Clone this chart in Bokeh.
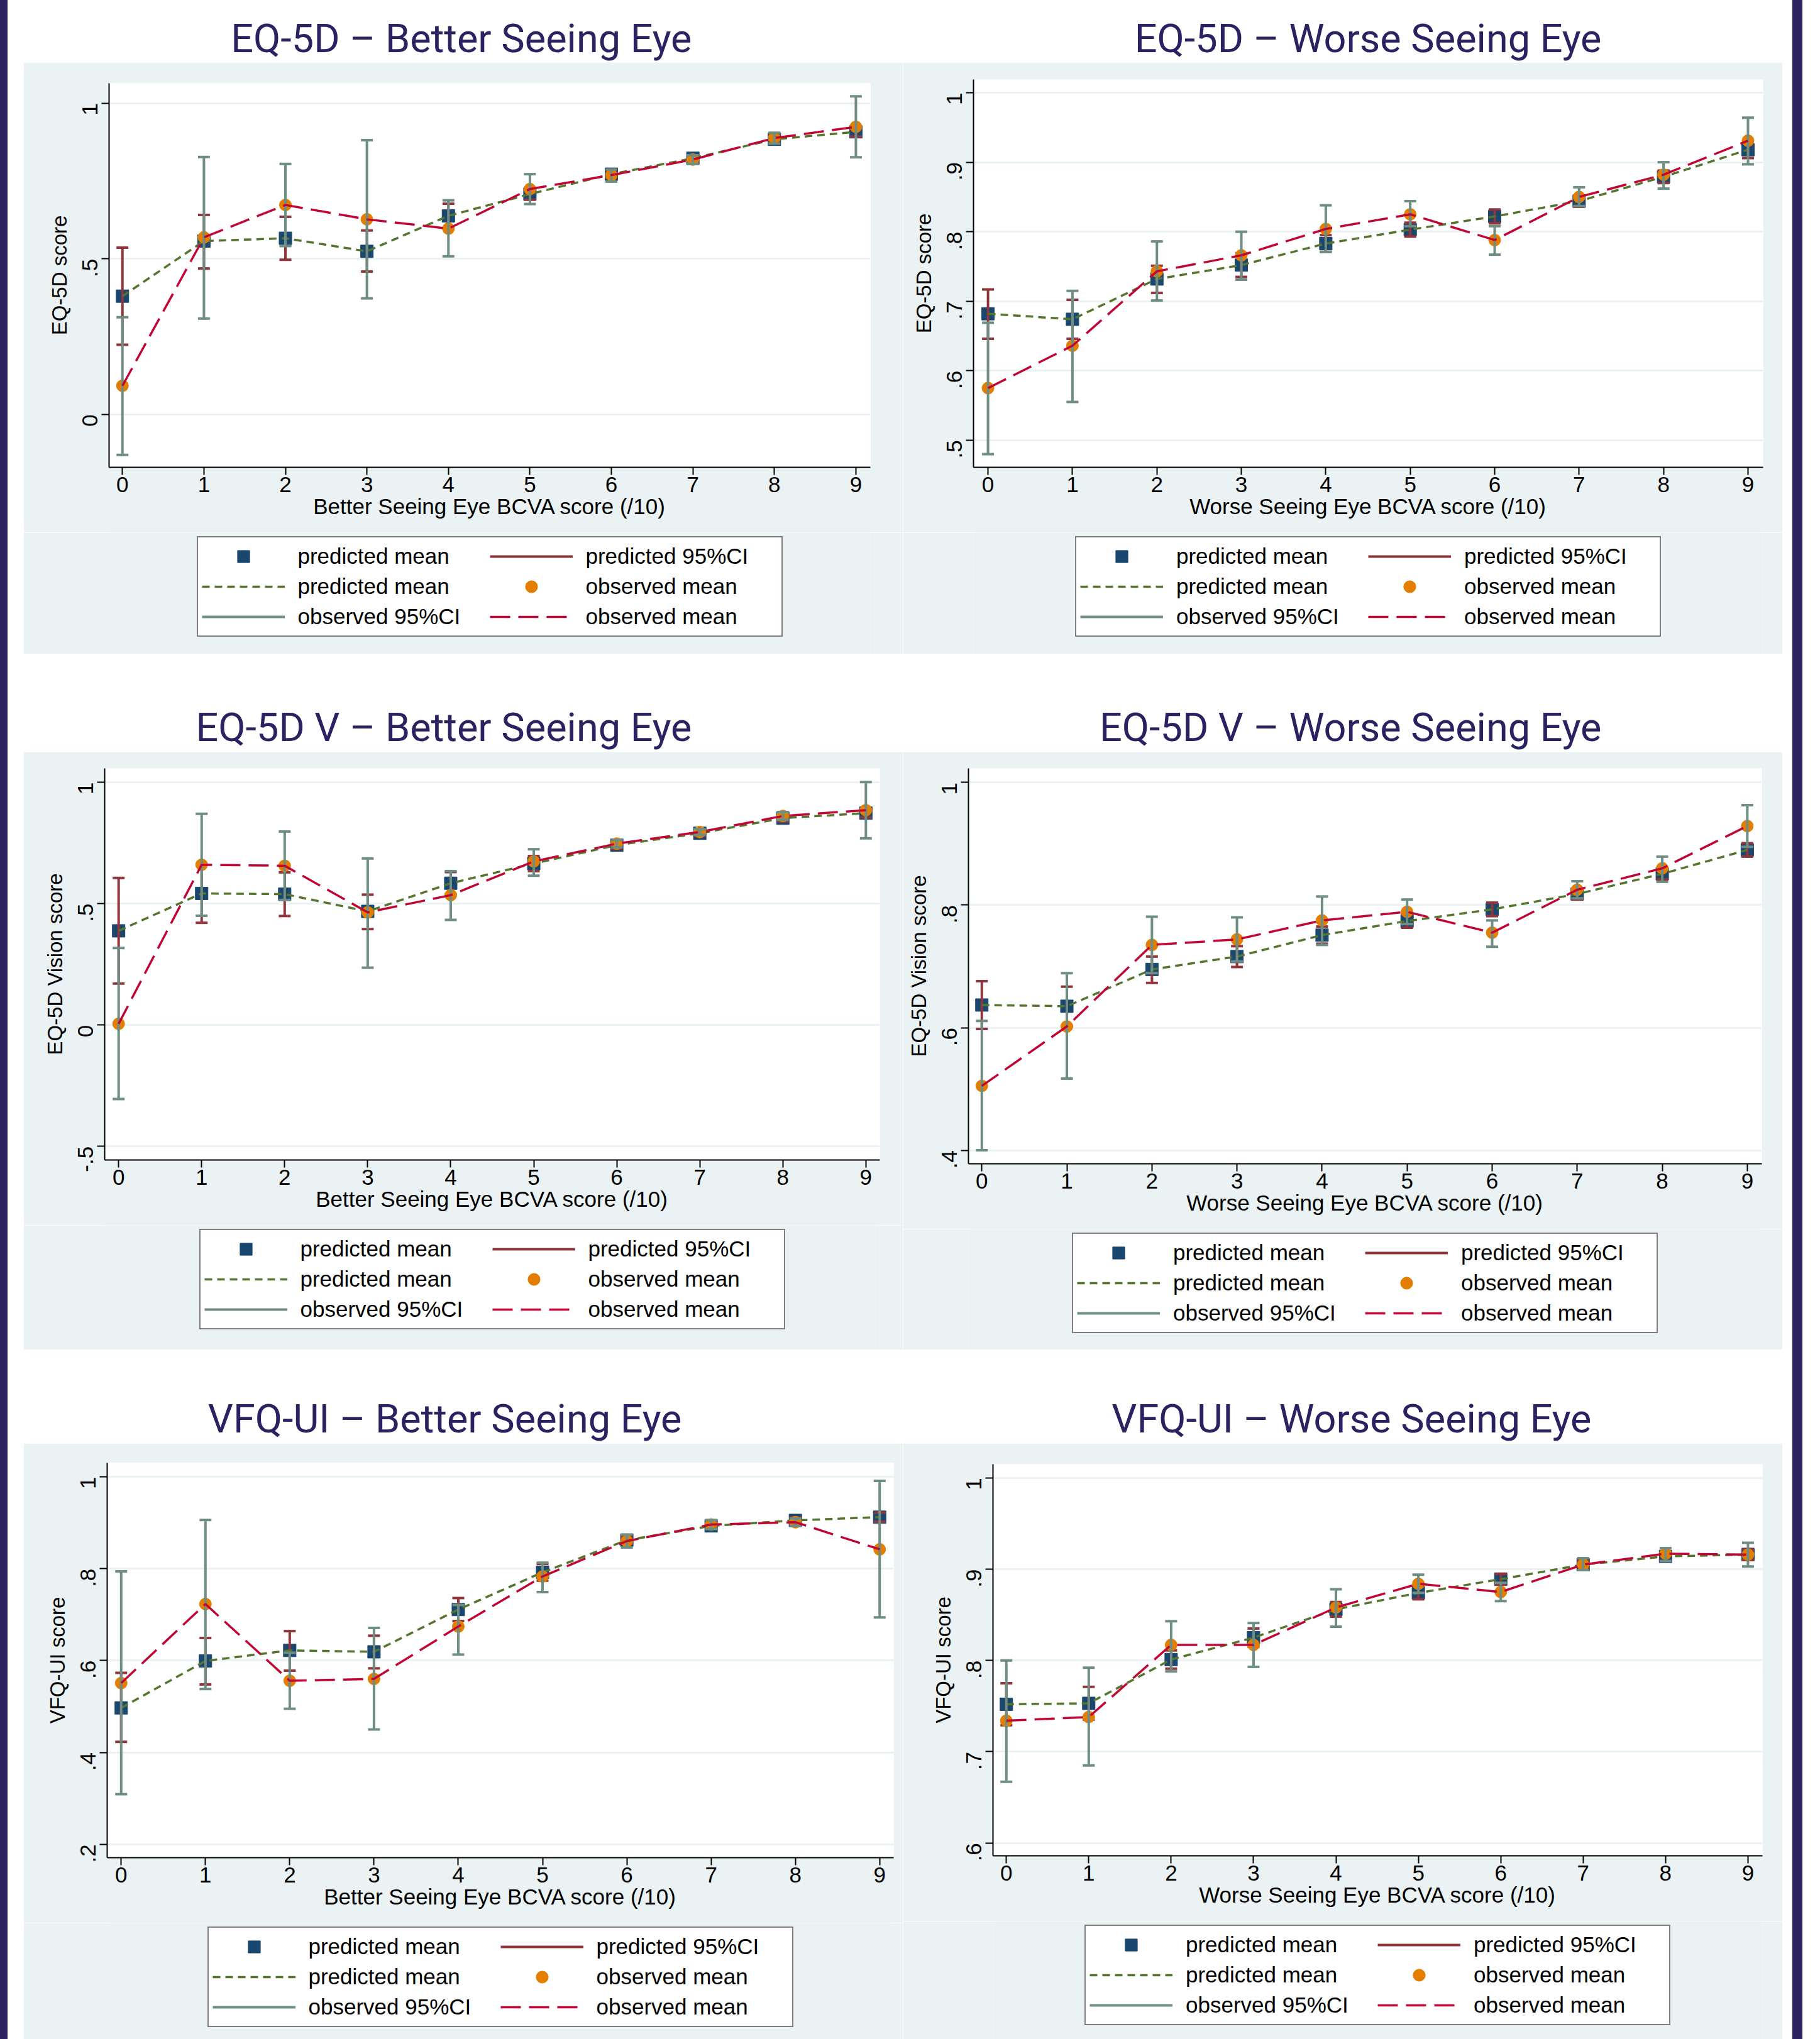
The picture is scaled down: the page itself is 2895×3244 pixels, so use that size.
import math
from bokeh.plotting import figure
from bokeh.models import (Range1d, FixedTicker, Legend, LegendItem,
                          ColumnDataSource, Div, Spacer)
from bokeh.layouts import row, column
from bokeh.embed import file_html
from bokeh.resources import INLINE
from bokeh.core.properties import value

# ---------------------------------------------------------------- data
bcva_score = [0, 1, 2, 3, 4, 5, 6, 7, 8, 9]

# EQ-5D, better seeing eye
eq5d_better_pred_mean = [0.380, 0.557, 0.566, 0.524, 0.638, 0.708, 0.772, 0.823, 0.884, 0.908]
eq5d_better_pred_lo = [0.224, 0.469, 0.497, 0.459, 0.599, 0.690, 0.760, 0.813, 0.872, 0.893]
eq5d_better_pred_hi = [0.536, 0.641, 0.635, 0.591, 0.677, 0.726, 0.784, 0.833, 0.896, 0.923]
eq5d_better_obs_mean = [0.092, 0.569, 0.673, 0.627, 0.597, 0.724, 0.769, 0.819, 0.888, 0.924]
eq5d_better_obs_lo = [-0.130, 0.308, 0.541, 0.373, 0.508, 0.676, 0.748, 0.805, 0.870, 0.826]
eq5d_better_obs_hi = [0.312, 0.827, 0.805, 0.881, 0.688, 0.772, 0.787, 0.833, 0.905, 1.022]

# EQ-5D, worse seeing eye
eq5d_worse_pred_mean = [0.682, 0.674, 0.732, 0.752, 0.783, 0.803, 0.822, 0.844, 0.879, 0.918]
eq5d_worse_pred_lo = [0.646, 0.646, 0.712, 0.735, 0.771, 0.793, 0.812, 0.836, 0.870, 0.906]
eq5d_worse_pred_hi = [0.717, 0.702, 0.751, 0.769, 0.795, 0.813, 0.832, 0.852, 0.888, 0.930]
eq5d_worse_obs_mean = [0.575, 0.636, 0.743, 0.766, 0.804, 0.825, 0.788, 0.850, 0.882, 0.931]
eq5d_worse_obs_lo = [0.480, 0.555, 0.701, 0.731, 0.771, 0.808, 0.767, 0.837, 0.862, 0.897]
eq5d_worse_obs_hi = [0.669, 0.715, 0.786, 0.800, 0.838, 0.844, 0.808, 0.864, 0.900, 0.964]

# EQ-5D V, better seeing eye
eq5dv_better_pred_mean = [0.388, 0.542, 0.539, 0.468, 0.584, 0.665, 0.741, 0.790, 0.852, 0.873]
eq5dv_better_pred_lo = [0.171, 0.421, 0.449, 0.395, 0.538, 0.634, 0.726, 0.778, 0.838, 0.855]
eq5dv_better_pred_hi = [0.606, 0.663, 0.629, 0.537, 0.630, 0.696, 0.756, 0.802, 0.866, 0.891]
eq5dv_better_obs_mean = [0.005, 0.660, 0.656, 0.464, 0.535, 0.674, 0.747, 0.795, 0.861, 0.885]
eq5dv_better_obs_lo = [-0.305, 0.450, 0.515, 0.236, 0.433, 0.615, 0.732, 0.783, 0.845, 0.769]
eq5dv_better_obs_hi = [0.317, 0.870, 0.797, 0.686, 0.634, 0.724, 0.762, 0.807, 0.877, 1.001]

# EQ-5D V, worse seeing eye
eq5dv_worse_pred_mean = [0.637, 0.635, 0.695, 0.716, 0.751, 0.774, 0.793, 0.818, 0.851, 0.890]
eq5dv_worse_pred_lo = [0.598, 0.603, 0.673, 0.699, 0.737, 0.763, 0.782, 0.809, 0.842, 0.879]
eq5dv_worse_pred_hi = [0.676, 0.667, 0.716, 0.733, 0.765, 0.785, 0.804, 0.827, 0.860, 0.901]
eq5dv_worse_obs_mean = [0.505, 0.602, 0.735, 0.744, 0.775, 0.789, 0.755, 0.825, 0.860, 0.929]
eq5dv_worse_obs_lo = [0.400, 0.517, 0.689, 0.708, 0.735, 0.769, 0.732, 0.811, 0.838, 0.895]
eq5dv_worse_obs_hi = [0.611, 0.689, 0.781, 0.780, 0.814, 0.809, 0.775, 0.839, 0.879, 0.963]

# VFQ-UI, better seeing eye
vfq_better_pred_mean = [0.497, 0.599, 0.622, 0.619, 0.711, 0.792, 0.862, 0.893, 0.905, 0.912]
vfq_better_pred_lo = [0.423, 0.548, 0.578, 0.583, 0.686, 0.774, 0.854, 0.887, 0.899, 0.902]
vfq_better_pred_hi = [0.573, 0.649, 0.664, 0.654, 0.736, 0.810, 0.870, 0.899, 0.911, 0.922]
vfq_better_obs_mean = [0.551, 0.723, 0.556, 0.560, 0.674, 0.783, 0.860, 0.896, 0.901, 0.842]
vfq_better_obs_lo = [0.309, 0.538, 0.495, 0.450, 0.613, 0.749, 0.846, 0.886, 0.893, 0.694]
vfq_better_obs_hi = [0.794, 0.906, 0.617, 0.671, 0.721, 0.813, 0.874, 0.906, 0.909, 0.991]

# VFQ-UI, worse seeing eye
vfq_worse_pred_mean = [0.752, 0.753, 0.801, 0.825, 0.856, 0.874, 0.889, 0.905, 0.914, 0.916]
vfq_worse_pred_lo = [0.729, 0.735, 0.791, 0.815, 0.848, 0.867, 0.883, 0.900, 0.909, 0.910]
vfq_worse_pred_hi = [0.775, 0.771, 0.811, 0.835, 0.864, 0.881, 0.895, 0.910, 0.919, 0.922]
vfq_worse_obs_mean = [0.734, 0.738, 0.817, 0.817, 0.858, 0.884, 0.875, 0.905, 0.917, 0.916]
vfq_worse_obs_lo = [0.667, 0.685, 0.788, 0.793, 0.837, 0.874, 0.865, 0.899, 0.909, 0.903]
vfq_worse_obs_hi = [0.800, 0.792, 0.843, 0.841, 0.878, 0.894, 0.885, 0.912, 0.923, 0.929]

# y tick values and labels
eq5d_better_yticks = [0, 0.5, 1]
eq5d_better_ylabels = ["0", ".5", "1"]
eq5d_worse_yticks = [0.5, 0.6, 0.7, 0.8, 0.9, 1]
eq5d_worse_ylabels = [".5", ".6", ".7", ".8", ".9", "1"]
eq5dv_better_yticks = [-0.5, 0, 0.5, 1]
eq5dv_better_ylabels = ["-.5", "0", ".5", "1"]
eq5dv_worse_yticks = [0.4, 0.6, 0.8, 1]
eq5dv_worse_ylabels = [".4", ".6", ".8", "1"]
vfq_better_yticks = [0.2, 0.4, 0.6, 0.8, 1]
vfq_better_ylabels = [".2", ".4", ".6", ".8", "1"]
vfq_worse_yticks = [0.6, 0.7, 0.8, 0.9, 1]
vfq_worse_ylabels = [".6", ".7", ".8", ".9", "1"]

panel_titles = ["EQ-5D \u2013 Better Seeing Eye", "EQ-5D \u2013 Worse Seeing Eye",
                "EQ-5D V \u2013 Better Seeing Eye", "EQ-5D V \u2013 Worse Seeing Eye",
                "VFQ-UI \u2013 Better Seeing Eye", "VFQ-UI \u2013 Worse Seeing Eye"]
x_labels = ["Better Seeing Eye BCVA score (/10)", "Worse Seeing Eye BCVA score (/10)"]
y_labels = ["EQ-5D score", "EQ-5D Vision score", "VFQ-UI score"]
legend_labels = ["predicted mean", "predicted 95%CI", "predicted mean",
                 "observed mean", "observed 95%CI", "observed mean"]

# ---------------------------------------------------------------- style
NAVY = "#1a476f"
MAROON = "#90353b"
GREEN = "#55752f"
ORANGE = "#e37e00"
TEAL = "#6e8e84"
CRANBERRY = "#c10534"
GREY_BG = "#eaf2f3"
PURPLE = "#2b2361"
FONT = "Liberation Sans"
TXT = "35px"
PANEL_W = 1399
AXIS_H = 104          # space under the frame kept for the x axis
LEG_GAP = 110         # frame bottom -> legend box top


def draw_series(p, src, pcap, ocap):
    r_sq = p.scatter("x", "pm", source=src, marker="square", size=20,
                     fill_color=NAVY, line_color=NAVY)
    r_pci = p.segment(x0="x", y0="plo", x1="x", y1="phi", source=src,
                      line_color=MAROON, line_width=4)
    p.scatter("x", "y", source=pcap, marker="dash", size=19,
              line_color=MAROON, line_width=4)
    r_pl = p.line("x", "pm", source=src, line_color=GREEN, line_width=3.5,
                  line_dash="12 8")
    r_oc = p.scatter("x", "om", source=src, marker="circle", size=19,
                     fill_color=ORANGE, line_color=ORANGE)
    r_oci = p.segment(x0="x", y0="olo", x1="x", y1="ohi", source=src,
                      line_color=TEAL, line_width=4)
    p.scatter("x", "y", source=ocap, marker="dash", size=19,
              line_color=TEAL, line_width=4)
    r_ol = p.line("x", "om", source=src, line_color=CRANBERRY, line_width=3.5,
                  line_dash="32 13")
    return [r_sq, r_pci, r_pl, r_oc, r_oci, r_ol]


def make_panel(pm, plo, phi, om, olo, ohi, yticks, ylabels, xlab, ylab,
               height, borders, xr, yr):
    bl, br, bt, bb = borders
    main_h = height - bb + AXIS_H
    p = figure(width=PANEL_W, height=main_h, x_range=Range1d(*xr), y_range=Range1d(*yr),
               min_border_left=bl, min_border_right=br, min_border_top=bt,
               min_border_bottom=AXIS_H, toolbar_location=None, output_backend="svg",
               background_fill_color="white", border_fill_color=GREY_BG,
               outline_line_color=None)
    src = ColumnDataSource(dict(x=bcva_score, pm=pm, plo=plo, phi=phi,
                                om=om, olo=olo, ohi=ohi))
    pcap = ColumnDataSource(dict(x=bcva_score + bcva_score, y=list(plo) + list(phi)))
    ocap = ColumnDataSource(dict(x=bcva_score + bcva_score, y=list(olo) + list(ohi)))
    draw_series(p, src, pcap, ocap)

    # axes
    xt = FixedTicker(ticks=bcva_score)
    yt = FixedTicker(ticks=yticks)
    p.xaxis.ticker = xt
    p.yaxis.ticker = yt
    p.yaxis.major_label_overrides = {float(t): lab for t, lab in zip(yticks, ylabels)}
    p.yaxis.major_label_orientation = math.pi / 2
    for ax in (p.xaxis[0], p.yaxis[0]):
        ax.axis_line_color = "black"
        ax.axis_line_width = 2
        ax.major_tick_line_color = "black"
        ax.major_tick_line_width = 2
        ax.major_tick_out = 12
        ax.major_tick_in = 0
        ax.minor_tick_out = 0
        ax.minor_tick_in = 0
        ax.major_label_text_font = FONT
        ax.major_label_text_font_size = TXT
        ax.major_label_text_color = "black"
        ax.axis_label_text_font = FONT
        ax.axis_label_text_font_size = TXT
        ax.axis_label_text_font_style = "normal"
        ax.axis_label_text_color = "black"
    p.yaxis.axis_label_text_font_size = "33px"
    p.xaxis.axis_label = xlab
    p.yaxis.axis_label = ylab
    p.xaxis.major_label_standoff = 3
    p.xaxis.axis_label_standoff = 0
    p.yaxis.major_label_standoff = 18
    p.yaxis.axis_label_standoff = 4

    p.xgrid.visible = False
    p.ygrid.ticker = yt
    p.ygrid.grid_line_color = GREY_BG
    p.ygrid.grid_line_width = 3

    # legend strip underneath (same grey region); its frame is aligned with the
    # plot frame, and its ranges keep the shared series out of view, so only the
    # legend swatches appear.
    lf = figure(width=PANEL_W, height=bb - AXIS_H, x_range=Range1d(-200, -199),
                y_range=Range1d(-200, -199), min_border_left=bl, min_border_right=br,
                min_border_top=0, min_border_bottom=0, toolbar_location=None,
                output_backend="svg", x_axis_type=None, y_axis_type=None,
                background_fill_color=GREY_BG, border_fill_color=GREY_BG,
                outline_line_color=None)
    lf.grid.visible = False
    rends = draw_series(lf, src, pcap, ocap)
    items = [LegendItem(label=lab, renderers=[r]) for lab, r in zip(legend_labels, rends)]
    col_major = [items[0], items[2], items[4], items[1], items[3], items[5]]
    legend = Legend(items=col_major, orientation="vertical", ncols=2,
                    location="top_center", margin=LEG_GAP - AXIS_H,
                    border_line_color="black", border_line_width=2,
                    background_fill_color="white", background_fill_alpha=1.0,
                    label_text_font=FONT, label_text_font_size="35px",
                    label_text_color="black",
                    glyph_width=132, glyph_height=48, label_height=48,
                    label_standoff=21, label_width=305, padding=6, spacing=0)
    lf.add_layout(legend, "center")
    return column(p, lf)


def title_strip(height, mid_y, right_edges, texts):
    tf = figure(width=2798, height=height, x_range=Range1d(0, 2798),
                y_range=Range1d(0, height), min_border=0, toolbar_location=None,
                output_backend="svg", x_axis_type=None, y_axis_type=None,
                background_fill_color="white", border_fill_color="white",
                outline_line_color=None)
    tf.grid.visible = False
    tf.text(x=right_edges, y=[mid_y, mid_y], text=texts,
            text_font=value("Roboto"), text_font_size="63px", text_color=PURPLE,
            text_align="right", text_baseline="middle")
    return tf


p1 = make_panel(eq5d_better_pred_mean, eq5d_better_pred_lo, eq5d_better_pred_hi,
                eq5d_better_obs_mean, eq5d_better_obs_lo, eq5d_better_obs_hi,
                eq5d_better_yticks, eq5d_better_ylabels, x_labels[0], y_labels[0],
                941, (136, 52, 33, 297), (-0.164, 9.178), (-0.170, 1.064))
p2 = make_panel(eq5d_worse_pred_mean, eq5d_worse_pred_lo, eq5d_worse_pred_hi,
                eq5d_worse_obs_mean, eq5d_worse_obs_lo, eq5d_worse_obs_hi,
                eq5d_worse_yticks, eq5d_worse_ylabels, x_labels[1], y_labels[0],
                941, (112, 31, 27, 297), (-0.172, 9.179), (0.461, 1.019))
p3 = make_panel(eq5dv_better_pred_mean, eq5dv_better_pred_lo, eq5dv_better_pred_hi,
                eq5dv_better_obs_mean, eq5dv_better_obs_lo, eq5dv_better_obs_hi,
                eq5dv_better_yticks, eq5dv_better_ylabels, x_labels[0], y_labels[1],
                951, (129, 37, 26, 302), (-0.168, 9.168), (-0.556, 1.057))
p4 = make_panel(eq5dv_worse_pred_mean, eq5dv_worse_pred_lo, eq5dv_worse_pred_hi,
                eq5dv_worse_obs_mean, eq5dv_worse_obs_lo, eq5dv_worse_obs_hi,
                eq5dv_worse_yticks, eq5dv_worse_ylabels, x_labels[1], y_labels[1],
                951, (104, 33, 26, 296), (-0.157, 9.171), (0.378, 1.023))
p5 = make_panel(vfq_better_pred_mean, vfq_better_pred_lo, vfq_better_pred_hi,
                vfq_better_obs_mean, vfq_better_obs_lo, vfq_better_obs_hi,
                vfq_better_yticks, vfq_better_ylabels, x_labels[0], y_labels[2],
                948, (133, 15, 31, 289), (-0.166, 9.166), (0.171, 1.030))
p6 = make_panel(vfq_worse_pred_mean, vfq_worse_pred_lo, vfq_worse_pred_hi,
                vfq_worse_obs_mean, vfq_worse_obs_lo, vfq_worse_obs_hi,
                vfq_worse_yticks, vfq_worse_ylabels, x_labels[1], y_labels[2],
                948, (143, 32, 33, 292), (-0.162, 9.176), (0.586, 1.015))

t1 = title_strip(99, 38, [1063, 2510], panel_titles[0:2])
t2 = title_strip(156, 39, [1063, 2510], panel_titles[2:4])
t3 = title_strip(149, 39, [1047, 2494], panel_titles[4:6])

left_bar = Div(text="", width=12, height=3244, margin=(0, 0, 0, 0),
               styles={"background-color": PURPLE})
right_bar = Div(text="", width=16, height=3244, margin=(0, 0, 0, 0),
                styles={"background-color": PURPLE})

panels = column(t1, row(p1, p2), t2, row(p3, p4), t3, row(p5, p6))
page = row(left_bar, Spacer(width=25, height=3244), panels,
           Spacer(width=16, height=3244), right_bar)

open("out.html", "w").write(file_html(page, INLINE, "BCVA utility plots"))
